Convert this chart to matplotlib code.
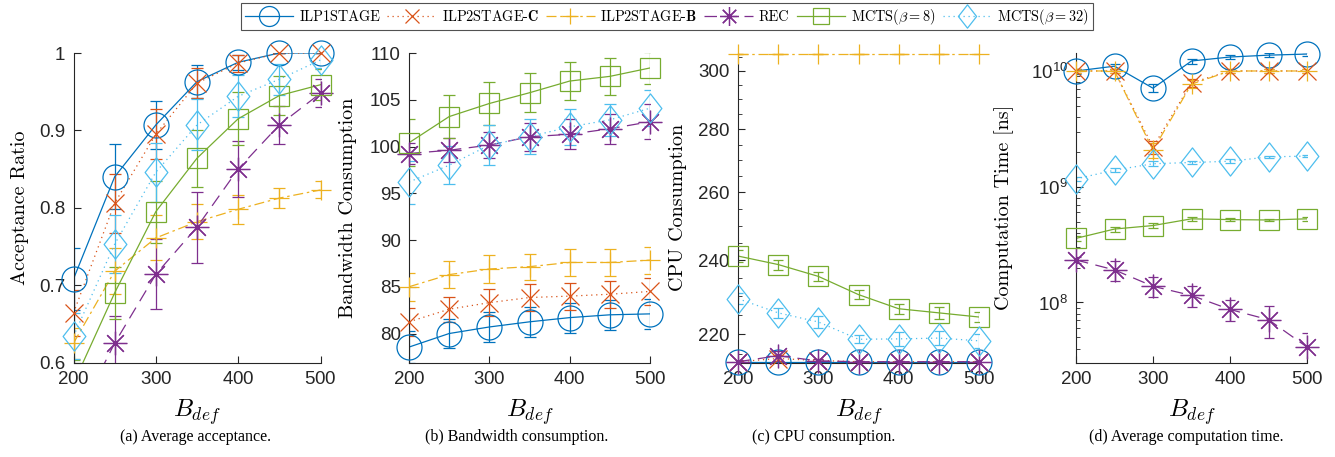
import matplotlib
matplotlib.use("Agg")
import matplotlib.pyplot as plt
from matplotlib.lines import Line2D
from matplotlib.path import Path
from matplotlib.ticker import FixedLocator, NullFormatter, FixedFormatter, LogLocator
import numpy as np

plt.rcParams['mathtext.fontset'] = 'cm'
plt.rcParams['axes.formatter.use_mathtext'] = True

# ---------------- data ----------------
B_def = [200, 250, 300, 350, 400, 450, 500]
series_names = ["ILP1STAGE", r"ILP2STAGE-$\mathbf{C}$", r"ILP2STAGE-$\mathbf{B}$", "REC",
                r"MCTS($\beta=8$)", r"MCTS($\beta=32$)"]

# (a) acceptance ratio
acc_ilp1 = [0.708, 0.840, 0.907, 0.963, 0.988, 1.0, 1.0]
acc_ilp1_err = [0.040, 0.042, 0.031, 0.021, 0.010, 0.0, 0.0]
acc_ilp2c = [0.664, 0.806, 0.895, 0.961, 0.987, 1.0, 1.0]
acc_ilp2c_err = [0.030, 0.038, 0.032, 0.019, 0.011, 0.0, 0.0]
acc_ilp2b = [0.625, 0.718, 0.761, 0.782, 0.798, 0.8125, 0.823]
acc_ilp2b_err = [0.020, 0.030, 0.029, 0.023, 0.019, 0.013, 0.011]
acc_rec = [0.52, 0.625, 0.714, 0.775, 0.850, 0.907, 0.948]
acc_rec_err = [0.030, 0.035, 0.045, 0.046, 0.036, 0.025, 0.018]
acc_mcts8 = [0.573, 0.690, 0.795, 0.864, 0.915, 0.945, 0.959]
acc_mcts8_err = [0.030, 0.034, 0.040, 0.037, 0.034, 0.025, 0.020]
acc_mcts32 = [0.634, 0.753, 0.846, 0.907, 0.944, 0.966, 0.991]
acc_mcts32_err = [0.030, 0.037, 0.038, 0.033, 0.027, 0.020, 0.010]

# (b) bandwidth consumption
bw_ilp1 = [78.55, 80.0, 80.7, 81.25, 81.7, 82.0, 82.1]
bw_ilp1_err = [1.7, 1.5, 1.6, 1.6, 1.6, 1.6, 1.6]
bw_ilp2c = [81.25, 82.6, 83.3, 83.85, 84.0, 84.2, 84.5]
bw_ilp2c_err = [1.5, 1.35, 1.45, 1.45, 1.45, 1.45, 1.45]
bw_ilp2b = [85.0, 86.3, 86.9, 87.15, 87.6, 87.6, 87.85]
bw_ilp2b_err = [1.5, 1.45, 1.45, 1.4, 1.4, 1.45, 1.45]
bw_rec = [99.25, 99.6, 100.15, 101.05, 101.3, 101.9, 102.65]
bw_rec_err = [1.1, 1.3, 1.4, 1.5, 1.6, 1.6, 1.9]
bw_mcts8 = [100.4, 103.2, 104.6, 105.75, 107.0, 107.5, 108.4]
bw_mcts8_err = [2.5, 2.3, 2.3, 2.1, 2.0, 2.0, 1.75]
bw_mcts32 = [96.2, 98.0, 100.15, 101.05, 102.1, 102.85, 104.1]
bw_mcts32_err = [2.3, 2.05, 2.1, 1.9, 1.9, 1.7, 1.9]

# (c) CPU consumption
cpu_ilp1 = [213, 213, 213, 213, 213, 213, 213]
cpu_ilp1_err = [0, 0, 0, 0, 0, 0, 0]
cpu_ilp2c = [213, 213.8, 213.3, 213, 213, 213, 213]
cpu_ilp2c_err = [0.3, 0.8, 0.5, 0.3, 0.3, 0.3, 0.3]
cpu_ilp2b = [306, 306, 306, 306, 306, 306, 306]
cpu_ilp2b_err = [0, 0, 0, 0, 0, 0, 0]
cpu_rec = [213, 214.5, 213.2, 213, 213, 213, 213]
cpu_rec_err = [0.4, 1.3, 0.6, 0.3, 0.3, 0.3, 0.3]
cpu_mcts8 = [241.2, 238.8, 235.5, 230.5, 226.7, 225.6, 224.5]
cpu_mcts8_err = [1.8, 1.4, 1.2, 1.2, 1.3, 1.6, 1.4]
cpu_mcts32 = [229.4, 225.6, 223.2, 218.7, 218.8, 219.0, 218.3]
cpu_mcts32_err = [1.5, 1.3, 1.6, 1.0, 1.9, 1.9, 1.8]

# (d) computation time [ns]
t_ilp1 = [1.0e10, 1.1e10, 7.1e9, 1.22e10, 1.32e10, 1.37e10, 1.4e10]
t_ilp1_err = [5e8, 6e8, 5.7e8, 6e8, 6e8, 5e8, 5e8]
t_ilp2c = [1.0e10, 1.0e10, 2.2e9, 7.9e9, 1.0e10, 1.0e10, 1.0e10]
t_ilp2c_err = [3e8, 3e8, 3e8, 6e8, 3e8, 3e8, 3e8]
t_ilp2b = [1.0e10, 1.0e10, 2.07e9, 7.7e9, 1.0e10, 1.0e10, 1.0e10]
t_ilp2b_err = [3e8, 3e8, 3e8, 6e8, 3e8, 3e8, 3e8]
t_rec = [2.33e8, 1.91e8, 1.38e8, 1.15e8, 8.7e7, 7.1e7, 4.12e7]
t_rec_err = [1.5e7, 3.7e7, 2.7e7, 2.3e7, 1.85e7, 2.2e7, 1.3e7]
t_mcts8 = [3.58e8, 4.31e8, 4.62e8, 5.28e8, 5.2e8, 5.16e8, 5.28e8]
t_mcts8_err = [2e7, 2.2e7, 2.2e7, 2e7, 1.5e7, 1.5e7, 1.8e7]
t_mcts32 = [1.17e9, 1.39e9, 1.58e9, 1.62e9, 1.66e9, 1.81e9, 1.84e9]
t_mcts32_err = [5e7, 6e7, 8e7, 5e7, 6e7, 5e7, 5e7]

captions = ["(a) Average acceptance.", "(b) Bandwidth consumption.",
            "(c) CPU consumption.", "(d) Average computation time."]
ylabels = ["Acceptance Ratio", "Bandwidth Consumption", "CPU Consumption",
           "Computation Time [ns]"]

# ---------------- styles ----------------
diamond = Path([(0, 1), (0.78, 0), (0, -1), (-0.78, 0), (0, 1)],
               [Path.MOVETO, Path.LINETO, Path.LINETO, Path.LINETO, Path.CLOSEPOLY])
styles = [
    dict(color='#0072BD', ls='-', marker='o', ms=18),
    dict(color='#D95319', ls=(0, (1, 3)), marker='x', ms=13),
    dict(color='#EDB120', ls=(0, (8, 3, 2, 3)), marker='+', ms=14),
    dict(color='#7E2F8E', ls=(0, (10, 6)), marker=(8, 2, 0), ms=17),
    dict(color='#77AC30', ls='-', marker='s', ms=14),
    dict(color='#4DBEEE', ls=(0, (1, 3)), marker=diamond, ms=21),
]

W, H = 1335, 457
fig = plt.figure(figsize=(W / 100, H / 100), dpi=100)

panel_px = [(73.5, 320.5), (409, 650), (738, 979), (1076, 1307)]
ylabel_px = [20, 348, 678, 1005]
AX_TOP, AX_BOT = 53, 362.5

def px_axes(l, r, t=AX_TOP, b=AX_BOT):
    return fig.add_axes([l / W, 1 - b / H, (r - l) / W, (b - t) / H])

axes = [px_axes(l, r) for l, r in panel_px]
ylims = [(0.6, 1.0), (76.9, 110.0), (212.8, 306.3), (3.03e7, 1.43e10)]
capsizes = [4.3, 4.3, 3.5, 3.5]

datasets = [
    [(acc_ilp1, acc_ilp1_err), (acc_ilp2c, acc_ilp2c_err), (acc_ilp2b, acc_ilp2b_err),
     (acc_rec, acc_rec_err), (acc_mcts8, acc_mcts8_err), (acc_mcts32, acc_mcts32_err)],
    [(bw_ilp1, bw_ilp1_err), (bw_ilp2c, bw_ilp2c_err), (bw_ilp2b, bw_ilp2b_err),
     (bw_rec, bw_rec_err), (bw_mcts8, bw_mcts8_err), (bw_mcts32, bw_mcts32_err)],
    [(cpu_ilp1, cpu_ilp1_err), (cpu_ilp2c, cpu_ilp2c_err), (cpu_ilp2b, cpu_ilp2b_err),
     (cpu_rec, cpu_rec_err), (cpu_mcts8, cpu_mcts8_err), (cpu_mcts32, cpu_mcts32_err)],
    [(t_ilp1, t_ilp1_err), (t_ilp2c, t_ilp2c_err), (t_ilp2b, t_ilp2b_err),
     (t_rec, t_rec_err), (t_mcts8, t_mcts8_err), (t_mcts32, t_mcts32_err)],
]

label_font = 'cmr10'

for i, ax in enumerate(axes):
    lo, hi = ylims[i]
    if i >= 2:
        ax.set_yscale('log')
    for (vals, errs), st in zip(datasets[i], styles):
        ax.errorbar(B_def, vals, yerr=errs, color=st['color'], ls=st['ls'], lw=0.9,
                    elinewidth=0.9, capsize=capsizes[i], capthick=0.9, zorder=2)
        xs = [x for x, v in zip(B_def, vals) if lo <= v <= hi]
        vs = [v for v in vals if lo <= v <= hi]
        ax.plot(xs, vs, ls='none', marker=st['marker'], ms=st['ms'], mfc='none',
                mec=st['color'], mew=0.9, clip_on=False, zorder=3)
    ax.set_xlim(200, 500)
    ax.set_ylim(lo, hi)
    ax.set_xticks([200, 300, 400, 500])
    ax.spines['top'].set_visible(False)
    ax.spines['right'].set_visible(False)
    for s in ('left', 'bottom'):
        ax.spines[s].set_color('#262626')
        ax.spines[s].set_linewidth(0.8)
    ax.tick_params(direction='in', length=5, width=0.8, colors='#262626',
                   labelsize=13.5, pad=6)
    ax.tick_params(which='minor', direction='in', length=3, width=0.6, colors='#262626')
    ax.set_xlabel(r'$B_{def}$', fontsize=18)
    ax.xaxis.set_label_coords(0.5, -(397 - AX_BOT) / (AX_BOT - AX_TOP))
    ax.set_ylabel(ylabels[i], family=label_font, fontsize=14.5)
    l, r = panel_px[i]
    ax.yaxis.set_label_coords((ylabel_px[i] + 9 - l) / (r - l), 0.5)

axes[0].set_yticks([0.6, 0.7, 0.8, 0.9, 1.0])
axes[0].set_yticklabels(['0.6', '0.7', '0.8', '0.9', '1'])
axes[1].set_yticks([80, 85, 90, 95, 100, 105, 110])
axes[1].set_yticklabels(['80', '85', '90', '95', '100', '105', '110'])
axes[2].yaxis.set_major_locator(FixedLocator([220, 240, 260, 280, 300]))
axes[2].yaxis.set_major_formatter(FixedFormatter(['220', '240', '260', '280', '300']))
axes[2].yaxis.set_minor_locator(FixedLocator(list(range(215, 306, 5))))
axes[2].yaxis.set_minor_formatter(NullFormatter())
axes[3].yaxis.set_major_locator(LogLocator(base=10, numticks=10))
axes[3].yaxis.set_minor_locator(LogLocator(base=10, subs=np.arange(2, 10), numticks=10))
axes[3].yaxis.set_minor_formatter(NullFormatter())
for ax in axes:
    for lab in ax.get_xticklabels() + ax.get_yticklabels():
        lab.set_fontfamily('Liberation Sans')

cap_x = [196, 517, 824, 1186]
for cx, txt in zip(cap_x, captions):
    fig.text(cx / W, 1 - 437 / H, txt, ha='center', va='center',
             family='Liberation Serif', fontsize=11.5)

handles = [Line2D([], [], color=st['color'], ls=st['ls'], lw=0.9, marker=st['marker'],
                  ms=st['ms'], mfc='none', mec=st['color'], mew=0.9) for st in styles]
leg = fig.legend(handles, series_names, loc='upper center', bbox_to_anchor=(0.4996, 1 - 3 / H),
                 ncol=6, frameon=True, fancybox=False, edgecolor='#262626',
                 prop=dict(family=label_font, size=10.3), handlelength=3.4,
                 handletextpad=0.4, columnspacing=0.5, borderpad=0.25, borderaxespad=0,
                 markerscale=0.8)
leg.get_frame().set_linewidth(0.8)

fig.savefig('out.png', dpi=100)
